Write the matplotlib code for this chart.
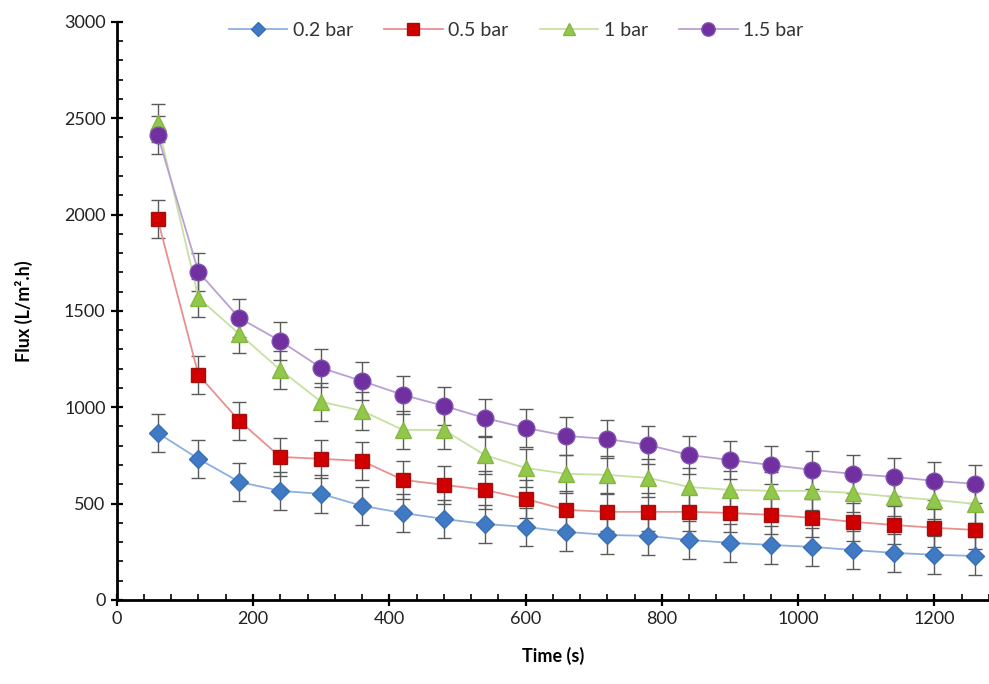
import numpy as np
import matplotlib
matplotlib.use("Agg")
import matplotlib.pyplot as plt
from matplotlib.ticker import MultipleLocator

# Time (s)
time_s = [60, 120, 180, 240, 300, 360, 420, 480, 540, 600, 660,
          720, 780, 840, 900, 960, 1020, 1080, 1140, 1200, 1260]

# Flux (L/m2.h) per transmembrane pressure
flux_02 = [867, 732, 612, 566, 550, 488, 451, 420, 394, 379, 353,
           337, 332, 311, 296, 285, 275, 259, 244, 234, 228]
flux_05 = [1977, 1168, 929, 742, 732, 721, 623, 597, 571, 524, 467,
           457, 457, 457, 451, 441, 426, 405, 389, 374, 363]
flux_10 = [2475, 1567, 1380, 1194, 1028, 981, 882, 882, 752, 685, 654,
           649, 633, 586, 571, 566, 566, 555, 535, 519, 498]
flux_15 = [2413, 1702, 1463, 1344, 1204, 1136, 1064, 1007, 944, 893, 851,
           835, 804, 752, 726, 700, 675, 654, 638, 618, 602]

# error bar half-width (same for every point)
err = [100] * len(time_s)

labels = ["0.2 bar", "0.5 bar", "1 bar", "1.5 bar"]

plt.rcParams.update({"font.family": ["Lato", "DejaVu Sans"], "font.size": 13})

fig = plt.figure(figsize=(9.89, 6.84), dpi=100)
ax = fig.add_axes([0.118, 0.123, 0.882, 0.845])

styles = [
    # marker, size, face, edge, line
    ("D", 9, "#4079C4", "#3A6FB4", "#8DB0DE"),
    ("s", 10, "#D00000", "#A01010", "#E89090"),
    ("^", 11, "#92C84A", "#86B544", "#C7E0A3"),
    ("o", 12, "#7030A0", "#8050B0", "#B9A0D3"),
]

for ys, lab, (mk, ms, fc, ec, lc) in zip([flux_02, flux_05, flux_10, flux_15], labels, styles):
    ax.errorbar(time_s, ys, yerr=err, fmt="none", ecolor="#5A5A5A",
                elinewidth=1.0, capsize=5, capthick=1.0, zorder=2)
    ax.plot(time_s, ys, color=lc, lw=1.3, marker=mk, markersize=ms,
            markerfacecolor=fc, markeredgecolor=ec, markeredgewidth=1.0,
            label=lab, zorder=3)

ax.set_xlim(0, 1280)
ax.set_ylim(0, 3000)
ax.xaxis.set_major_locator(MultipleLocator(200))
ax.xaxis.set_minor_locator(MultipleLocator(40))
ax.yaxis.set_major_locator(MultipleLocator(500))
ax.yaxis.set_minor_locator(MultipleLocator(100))

for s in ("top", "right"):
    ax.spines[s].set_visible(False)
for s in ("left", "bottom"):
    ax.spines[s].set_linewidth(2.0)
ax.tick_params(which="major", direction="inout", length=9, width=1.6, color="black")
ax.tick_params(which="minor", direction="in", length=4, width=1.2, color="black")
ax.tick_params(axis="both", labelsize=13, labelcolor="#222222")

ax.set_xlabel("Time (s)", fontsize=13, fontweight="bold", labelpad=14)
ax.set_ylabel("Flux (L/m\u00b2.h)", fontsize=13, fontweight="bold", labelpad=22)

leg = ax.legend(loc="upper center", bbox_to_anchor=(0.458, 1.03), ncol=4, frameon=False,
                fontsize=14, handlelength=3.0, columnspacing=1.6, handletextpad=0.3,
                markerscale=0.8)
for t in leg.get_texts():
    t.set_color("#333333")

fig.savefig("out.png", dpi=100)
